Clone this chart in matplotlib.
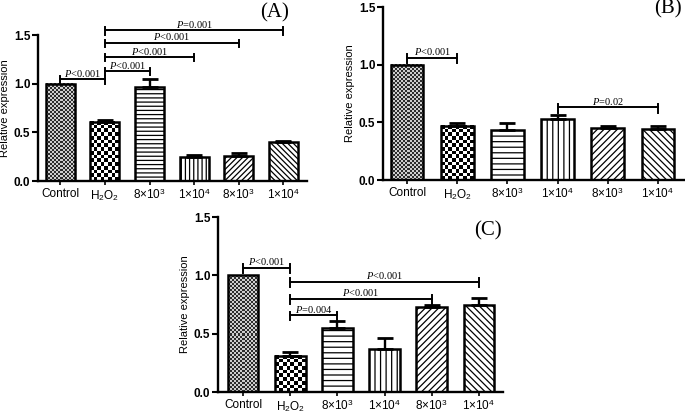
import numpy as np
import matplotlib
matplotlib.use("Agg")
import matplotlib.pyplot as plt
from matplotlib.colors import ListedColormap

plt.rcParams['font.family'] = ['Liberation Sans', 'DejaVu Sans']
plt.rcParams['mathtext.fontset'] = 'custom'
plt.rcParams['mathtext.it'] = 'Liberation Serif:italic'
plt.rcParams['mathtext.rm'] = 'Liberation Sans'
plt.rcParams['mathtext.sf'] = 'Liberation Sans'
plt.rcParams['hatch.linewidth'] = 0.9

categories = ['Control', 'H$_2$O$_2$', '8×10$^3$', '1×10$^4$', '8×10$^3$', '1×10$^4$']

vals_A = [1.00, 0.61, 0.97, 0.25, 0.26, 0.40]
err_A = [0.00, 0.02, 0.08, 0.02, 0.03, 0.015]
vals_B = [1.00, 0.47, 0.43, 0.53, 0.455, 0.44]
err_B = [0.00, 0.02, 0.06, 0.03, 0.015, 0.025]
vals_C = [1.00, 0.31, 0.545, 0.37, 0.73, 0.75]
err_C = [0.00, 0.03, 0.065, 0.09, 0.02, 0.06]

sig_A = [(0, 1, 1.045, 'P<0.001'), (1, 2, 1.13, 'P<0.001'), (1, 3, 1.275, 'P<0.001'),
         (1, 4, 1.42, 'P<0.001'), (1, 5, 1.55, 'P=0.001')]
sig_B = [(0, 1, 1.06, 'P<0.001'), (3, 5, 0.63, 'P=0.02')]
sig_C = [(0, 1, 1.065, 'P<0.001'), (1, 5, 0.945, 'P<0.001'), (1, 4, 0.80, 'P<0.001'),
         (1, 2, 0.66, 'P=0.004')]

W, H = 685, 415
fig = plt.figure(figsize=(W / 100, H / 100), dpi=100)


def px_axes(left, right, top, bottom):
    return fig.add_axes([left / W, 1 - bottom / H, (right - left) / W, (bottom - top) / H])


def checker(ax, bar, cell, colors):
    bb = bar.get_bbox()
    p0 = ax.transData.transform((bb.x0, bb.y0))
    p1 = ax.transData.transform((bb.x1, bb.y1))
    nx = max(1, int(round((p1[0] - p0[0]) / cell)))
    ny = max(1, int(round((p1[1] - p0[1]) / cell)))
    img = np.add.outer(np.arange(ny), np.arange(nx)) % 2
    ax.imshow(img, extent=(bb.x0, bb.x1, bb.y0, bb.y1), cmap=ListedColormap(colors),
              interpolation='nearest', aspect='auto', zorder=1)


def panel(ax, vals, errs, sigs, xlim, dense, label, label_xy):
    ax.set_xlim(*xlim)
    ax.set_ylim(0, 1.5)
    x = np.arange(len(vals))
    n = 4 if dense else 3
    nd = 6 if dense else 5
    hatches = [None, None, '-' * n, '|' * n, '/' * nd, '\\' * nd]
    bars = ax.bar(x, vals, width=0.65, facecolor='white', edgecolor='black',
                  linewidth=1.8, zorder=2)
    for b, h in zip(bars, hatches):
        if h is None:
            b.set_facecolor('none')
        else:
            b.set_hatch(h)
    checker(ax, bars[0], 2.0, ['#2e2e2e', '#cfcfcf'])
    checker(ax, bars[1], 3.7, ['black', 'white'])
    ax.errorbar(x[1:], vals[1:], yerr=[np.zeros(len(vals) - 1), errs[1:]], fmt='none',
                ecolor='black', elinewidth=1.7, capsize=5.5, capthick=2.0, zorder=3)
    for i, j, h, t in sigs:
        ax.plot([i, j], [h, h], color='black', lw=1.4, clip_on=False, zorder=4)
        for k in (i, j):
            ax.plot([k, k], [h - 0.045, h + 0.03], color='black', lw=1.4, clip_on=False, zorder=4)
        txt = '$P$' + t[1:]
        ax.text((i + j) / 2, h + 0.003, txt, ha='center', va='bottom', fontsize=7.5,
                family='Liberation Serif', clip_on=False)
    ax.set_xlim(*xlim)
    ax.set_ylim(0, 1.5)
    for s in ('top', 'right'):
        ax.spines[s].set_visible(False)
    for s in ('left', 'bottom'):
        ax.spines[s].set_linewidth(1.7)
    ax.set_yticks([0, 0.5, 1.0, 1.5])
    ax.set_yticklabels(['0.0', '0.5', '1.0', '1.5'], fontweight='bold', fontsize=8.5)
    ax.set_xticks(x)
    ax.set_xticklabels(categories, fontsize=8.5)
    ax.tick_params(axis='y', length=4, width=1.5, pad=1.5)
    ax.tick_params(axis='x', length=3, width=1.2, pad=2)
    ax.set_ylabel('Relative expression', fontsize=8, labelpad=3)
    fig.text(label_xy[0] / W, 1 - label_xy[1] / H, label, fontsize=15,
             family='Liberation Serif', ha='center', va='center')


axA = px_axes(38, 307, 35, 181)
panel(axA, vals_A, err_A, sig_A, (-0.5, 5.53), True, '(A)', (275, 13))
axB = px_axes(383, 684, 7, 180)
panel(axB, vals_B, err_B, sig_B, (-0.48, 5.52), False, '(B)', (668, 9))
axC = px_axes(218, 503, 217, 392)
panel(axC, vals_C, err_C, sig_C, (-0.53, 5.51), False, '(C)', (488, 231))

fig.savefig('out.png', dpi=100)
